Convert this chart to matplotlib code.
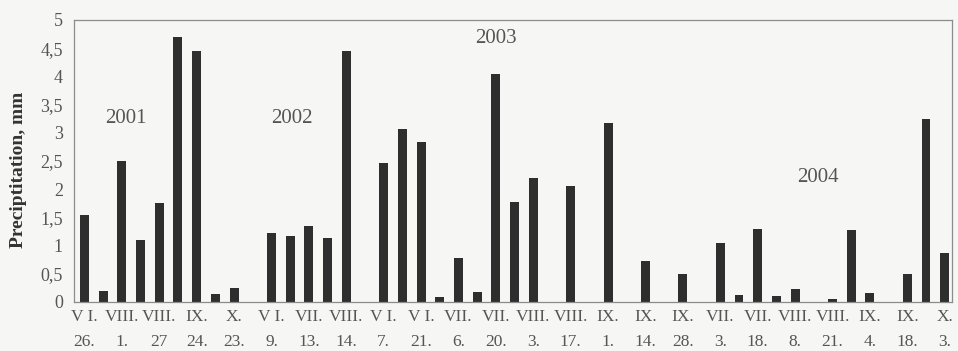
import matplotlib.pyplot as plt
import numpy as np

# precipitation per observation date, 2001-2004 (empty dates are 0)
values = [1.55, 0.2, 2.5, 1.1, 1.75, 4.7, 4.45, 0.15, 0.25, 0,
          1.22, 1.17, 1.35, 1.13, 4.45, 0,
          2.47, 3.07, 2.83, 0.08, 0.78, 0.18, 4.05, 1.77, 2.19, 0,
          2.06, 0, 3.18, 0, 0.73, 0, 0.5, 0,
          1.04, 0.12, 1.3, 0.1, 0.23, 0, 0.05, 1.27, 0.16, 0, 0.5, 3.25, 0.87]

tick_labels = ['V I.\n26.', 'VIII.\n1.', 'VIII.\n27', 'IX.\n24.', 'X.\n23.',
               'V I.\n9.', 'VII.\n13.', 'VIII.\n14.', 'V I.\n7.', 'V I.\n21.',
               'VII.\n6.', 'VII.\n20.', 'VIII.\n3.', 'VIII.\n17.', 'IX.\n1.',
               'IX.\n14.', 'IX.\n28.', 'VII.\n3.', 'VII.\n18.', 'VIII.\n8.',
               'VIII.\n21.', 'IX.\n4.', 'IX.\n18.', 'X.\n3.']

years = ['2001', '2002', '2003', '2004']
year_x = [2.2, 11.1, 22.0, 39.2]
year_y = [3.26, 3.26, 4.68, 2.2]

yticks = [0, 0.5, 1, 1.5, 2, 2.5, 3, 3.5, 4, 4.5, 5]

plt.rcParams['font.family'] = ['Liberation Serif', 'DejaVu Serif']

bg = '#f6f6f4'
fig = plt.figure(figsize=(9.58, 3.51), dpi=100, facecolor=bg)
ax = fig.add_axes([74 / 958, 1 - 302 / 351, 878 / 958, 282 / 351])
ax.set_facecolor(bg)

x = np.arange(len(values))
ax.bar(x, values, width=0.48, color='#2e2e2e')

ax.set_xlim(-0.56, 46.39)
ax.set_ylim(0, 5)

ax.set_yticks(yticks)
ax.set_yticklabels([('%g' % t).replace('.', ',') for t in yticks])
ax.set_xticks(x[::2])
ax.set_xticklabels(tick_labels, linespacing=1.75, va='top')

ax.tick_params(axis='y', length=0, pad=8, labelsize=13, labelcolor='#555555')
ax.tick_params(axis='x', length=0, pad=5, labelsize=12.5, labelcolor='#555555')

for s in ax.spines.values():
    s.set_color('#8c8c8c')
    s.set_linewidth(0.9)

ax.set_ylabel('Preciptitation, mm', fontsize=14, fontweight='bold', color='#333333')
ax.yaxis.set_label_coords(-47 / 878, 0.47)

for t, xx, yy in zip(years, year_x, year_y):
    ax.text(xx, yy, t, fontsize=15, color='#555555', ha='center', va='center')

plt.savefig('out.png', facecolor=bg)
